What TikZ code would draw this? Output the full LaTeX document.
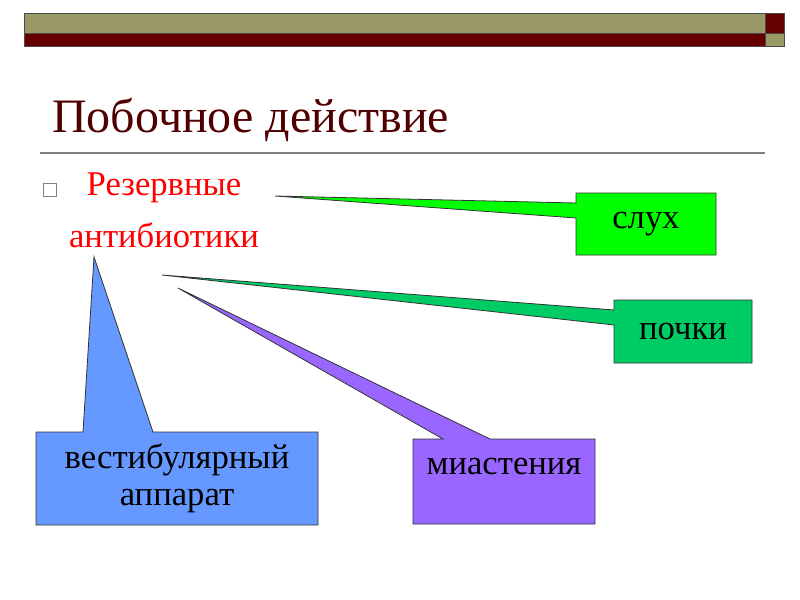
\documentclass[tikz,border=0pt]{standalone}
\usepackage{fontspec}
\setmainfont{Liberation Serif}
\usetikzlibrary{calc,backgrounds}
\definecolor{barolive}{RGB}{153,153,102}
\definecolor{barred}{RGB}{102,0,0}
\definecolor{titlered}{RGB}{80,0,0}
\definecolor{sluhgreen}{RGB}{0,255,0}
\definecolor{pochkigreen}{RGB}{0,204,102}
\definecolor{miastviolet}{RGB}{153,102,255}
\definecolor{vestblue}{RGB}{102,153,255}
\begin{document}
\begin{tikzpicture}[x=0.75pt,y=-0.75pt,
  box/.style={anchor=north west,inner sep=0pt,outer sep=0pt,font=\fontsize{26}{28}\selectfont},
  callout/.style={draw=black!80,line width=0.6pt}]
\useasboundingbox (0,0) rectangle (800,600);

\draw[fill=barolive,draw=black!70] (24,13) rectangle (765,33);
\draw[fill=barred,draw=black!70] (765,13) rectangle (784,33);
\draw[fill=barred,draw=black!70] (24,33) rectangle (765,46);
\draw[fill=barolive,draw=black!70] (765,33) rectangle (784,46);

\node[anchor=base west,inner sep=0pt,text=titlered,font=\fontsize{36}{40}\selectfont] (title) at (52,132) {Побочное действие};
\draw[gray,line width=1.2pt] (40,153) -- (765,153);

\node[draw=gray,line width=0.5pt,minimum size=9.5pt,inner sep=0pt] (bul) at (50,190) {};
\node[anchor=north,inner sep=0pt,align=center,text=red,font=\fontsize{26}{39}\selectfont] (antib) at (164,173) {Резервные\\антибиотики};

\node[box,minimum width=105pt,minimum height=46.5pt] (sluh) at (576,193) {слух};
\node[box,minimum width=103.5pt,minimum height=47.25pt] (pochki) at (614,300) {почки};
\node[box,minimum width=136.5pt,minimum height=63.75pt,text height=14pt,text depth=24pt] (miast) at (413,439) {миастения};
\node[box,minimum width=211.5pt,minimum height=69.75pt,align=center] (vest) at (36,432) {вестибулярный\\аппарат};

\coordinate (tsluh) at (275,196);
\coordinate (tpochki) at (162,275);
\coordinate (tmiast) at (178,288);
\coordinate (tvest) at (94,257);

\begin{pgfonlayer}{background}
\draw[callout,fill=sluhgreen] (sluh.north west) -- ($(sluh.north west)+(0,10)$) -- (tsluh) -- ($(sluh.north west)+(0,25)$) -- (sluh.south west) -- (sluh.south east) -- (sluh.north east) -- cycle;
\draw[callout,fill=pochkigreen] (pochki.north west) -- ($(pochki.north west)+(0,10)$) -- (tpochki) -- ($(pochki.north west)+(0,25)$) -- (pochki.south west) -- (pochki.south east) -- (pochki.north east) -- cycle;
\draw[callout,fill=miastviolet] (miast.north west) -- ($(miast.north west)+(30,0)$) -- (tmiast) -- ($(miast.north west)+(77,0)$) -- (miast.north east) -- (miast.south east) -- (miast.south west) -- cycle;
\draw[callout,fill=vestblue] (vest.north west) -- ($(vest.north west)+(47,0)$) -- (tvest) -- ($(vest.north west)+(117,0)$) -- (vest.north east) -- (vest.south east) -- (vest.south west) -- cycle;
\end{pgfonlayer}
\end{tikzpicture}
\end{document}
